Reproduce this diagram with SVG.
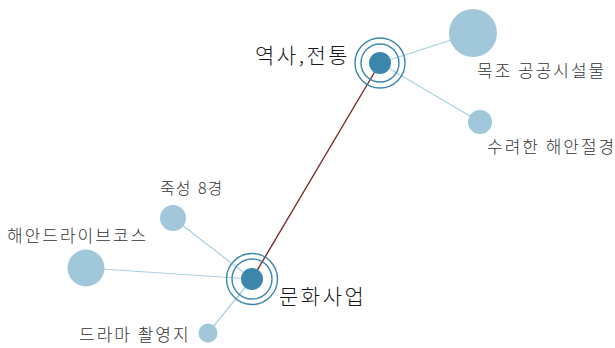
<svg xmlns="http://www.w3.org/2000/svg" width="615" height="348" viewBox="0 0 615 348">
<style>
text{font-family:"Noto Sans CJK KR","Noto Sans",sans-serif;fill:#333;font-weight:300;}
.lbl{font-size:17px;letter-spacing:2px;}
.sm{font-size:16px;letter-spacing:1px;word-spacing:2px;}
.big{font-size:21px;letter-spacing:2.5px;fill:#1a1a1a;}
.leaf{fill:#a0c7da;}
.hub{fill:#3a86ad;}
.ring{fill:none;stroke:#3a86ad;stroke-width:1.4;}
.e{stroke:#a9d0e1;stroke-width:1.2;}
.main{stroke:#7a2b2b;stroke-width:1.4;}
</style>
<rect width="615" height="348" fill="#fff"/>
<g id="connectors">
<line class="e" x1="380" y1="63" x2="473" y2="33"/>
<line class="e" x1="380" y1="63" x2="480" y2="122"/>
<line class="e" x1="252" y1="279" x2="173" y2="218"/>
<line class="e" x1="252" y1="279" x2="86" y2="268"/>
<line class="e" x1="252" y1="279" x2="208" y2="333"/>
<line class="main" x1="380" y1="63" x2="252" y2="279"/>
</g>
<g id="n-mokjo"><circle class="leaf" cx="473" cy="33" r="24"/><text class="lbl" x="477" y="77">목조 공공시설물</text></g>
<g id="n-suryeo"><circle class="leaf" cx="480" cy="122" r="12"/><text class="lbl" x="487" y="153">수려한 해안절경</text></g>
<g id="n-juksung"><circle class="leaf" cx="173" cy="218" r="13"/><text class="sm" x="160" y="194">죽성 8경</text></g>
<g id="n-drive"><circle class="leaf" cx="86" cy="268" r="18.5"/><text class="lbl" x="7" y="242">해안드라이브코스</text></g>
<g id="n-drama"><circle class="leaf" cx="208" cy="333" r="9.5"/><text class="lbl" x="79" y="341">드라마 촬영지</text></g>
<g id="n-history"><circle class="ring" cx="380" cy="63" r="25"/><circle class="ring" cx="380" cy="63" r="19"/><circle class="hub" cx="380" cy="63" r="11"/><text class="big" x="255" y="63">역사,전통</text></g>
<g id="n-culture"><circle class="ring" cx="252" cy="279" r="25.5"/><circle class="ring" cx="252" cy="279" r="20"/><circle class="hub" cx="252" cy="279" r="11"/><text class="big" x="279" y="304">문화사업</text></g>
</svg>
